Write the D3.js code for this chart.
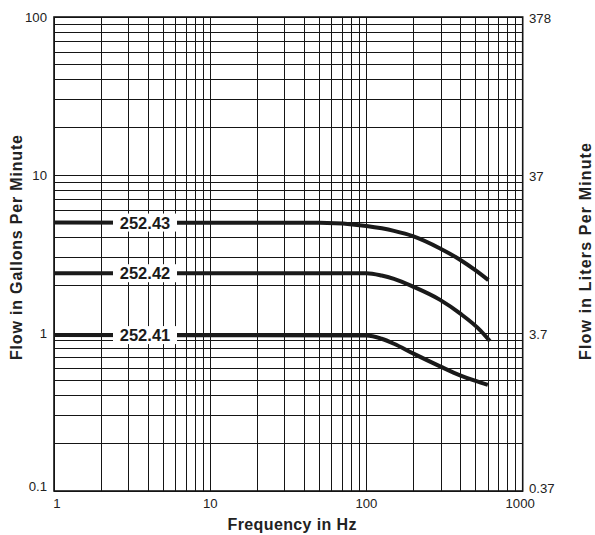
<!DOCTYPE html>
<html>
<head>
<meta charset="utf-8">
<script src="https://cdn.jsdelivr.net/npm/d3@7"></script>
<style>
  body { margin: 0; background: #fff; }
  svg { display: block; font-family: Arial, "Liberation Sans", Helvetica, sans-serif; }
</style>
</head>
<body>
<div id="chart"></div>
<script>
// --- data ---
const models = ["252.43", "252.42", "252.41"];
const freqs43 = [1, 50, 100, 150, 200, 296, 397, 500, 603];
const flow43 = [5.0, 4.98, 4.75, 4.43, 4.09, 3.43, 2.91, 2.49, 2.16];
const freqs42 = [1, 100, 125, 150, 200, 296, 397, 535, 617];
const flow42 = [2.39, 2.39, 2.31, 2.2, 1.96, 1.62, 1.33, 1.04, 0.89];
const freqs41 = [1, 100, 125, 150, 200, 296, 397, 500, 598];
const flow41 = [0.97, 0.965, 0.92, 0.855, 0.74, 0.615, 0.54, 0.497, 0.47];
const xTicks = [1, 10, 100, 1000];
const yTicks = [0.1, 1, 10, 100];
const yTicksRight = ["0.37", "3.7", "37", "378"];

const series = [
  { name: models[0], f: freqs43, v: flow43 },
  { name: models[1], f: freqs42, v: flow42 },
  { name: models[2], f: freqs41, v: flow41 }
];

const W = 595, H = 535;
const m = { left: 54, right: 72.3, top: 17, bottom: 44 };

const svg = d3.select("#chart").append("svg").attr("width", W).attr("height", H);

const x = d3.scaleLog().domain([1, 1000]).range([m.left, W - m.right]);
const y = d3.scaleLog().domain([0.1, 100]).range([H - m.bottom, m.top]);

// --- log grid ---
const gridX = [], gridY = [];
for (let k = 0; k < 3; k++) for (let i = 1; i < 10; i++) gridX.push(i * Math.pow(10, k));
gridX.push(1000);
for (let k = -1; k < 2; k++) for (let i = 1; i < 10; i++) gridY.push(i * Math.pow(10, k));
gridY.push(100);

const grid = svg.append("g").attr("stroke", "#151515").attr("stroke-width", 1)
  .attr("shape-rendering", "crispEdges");
grid.selectAll(".gx").data(gridX).enter().append("line").attr("class", "gx")
  .attr("x1", d => x(d)).attr("x2", d => x(d)).attr("y1", y(0.1)).attr("y2", y(100));
grid.selectAll(".gy").data(gridY).enter().append("line").attr("class", "gy")
  .attr("x1", x(1)).attr("x2", x(1000)).attr("y1", d => y(d)).attr("y2", d => y(d));

svg.append("rect").attr("x", x(1)).attr("y", y(100))
  .attr("width", x(1000) - x(1)).attr("height", y(0.1) - y(100))
  .attr("fill", "none").attr("stroke", "#151515").attr("stroke-width", 1.6);

// --- curves ---
const line = d3.line().x(d => x(d[0])).y(d => y(d[1])).curve(d3.curveMonotoneX);
series.forEach(s => {
  const pts = s.f.map((f, i) => [f, s.v[i]]);
  svg.append("path").datum(pts).attr("d", line)
    .attr("fill", "none").attr("stroke", "#1a1a1a").attr("stroke-width", 4);
  const ly = y(s.v[0]);
  svg.append("rect").attr("x", 113).attr("y", ly - 9).attr("width", 64).attr("height", 18).attr("fill", "#fff");
  svg.append("text").attr("x", 145).attr("y", ly).attr("dy", "0.36em")
    .attr("text-anchor", "middle").attr("font-weight", "bold").attr("font-size", 16.5)
    .attr("fill", "#1a1a1a").text(s.name);
});

// --- tick labels ---
const tickFont = 13.2;
svg.selectAll(".xt").data(xTicks).enter().append("text")
  .attr("x", (d, i) => x(d) + [3, 0, 0, -2.5][i]).attr("y", 508).attr("text-anchor", "middle")
  .attr("font-size", tickFont).attr("fill", "#222").text(d => d);
svg.selectAll(".yl").data(yTicks).enter().append("text")
  .attr("x", 47).attr("y", (d, i) => y(d) + (i === 0 ? -4.5 : 0)).attr("dy", "0.35em")
  .attr("text-anchor", "end").attr("font-size", tickFont).attr("fill", "#222").text(d => d);
svg.selectAll(".yr").data(yTicks).enter().append("text")
  .attr("x", 529).attr("y", (d, i) => y(d) + (i === 0 ? -3 : 1.7)).attr("dy", "0.35em")
  .attr("text-anchor", "start").attr("font-size", tickFont).attr("fill", "#222").text((d, i) => yTicksRight[i]);

// --- axis titles ---
svg.append("text").attr("x", 292).attr("y", 530).attr("text-anchor", "middle")
  .attr("font-weight", "bold").attr("font-size", 16).attr("fill", "#222")
  .attr("textLength", 129).attr("lengthAdjust", "spacing").text("Frequency in Hz");
svg.append("text").attr("transform", "translate(21.7,247.5) rotate(-90)").attr("text-anchor", "middle")
  .attr("font-weight", "bold").attr("font-size", 16).attr("fill", "#222")
  .attr("textLength", 225).attr("lengthAdjust", "spacing").text("Flow in Gallons Per Minute");
svg.append("text").attr("transform", "translate(590.5,251.5) rotate(-90)").attr("text-anchor", "middle")
  .attr("font-weight", "bold").attr("font-size", 16).attr("fill", "#222")
  .attr("textLength", 217).attr("lengthAdjust", "spacing").text("Flow in Liters Per Minute");
</script>
</body>
</html>
